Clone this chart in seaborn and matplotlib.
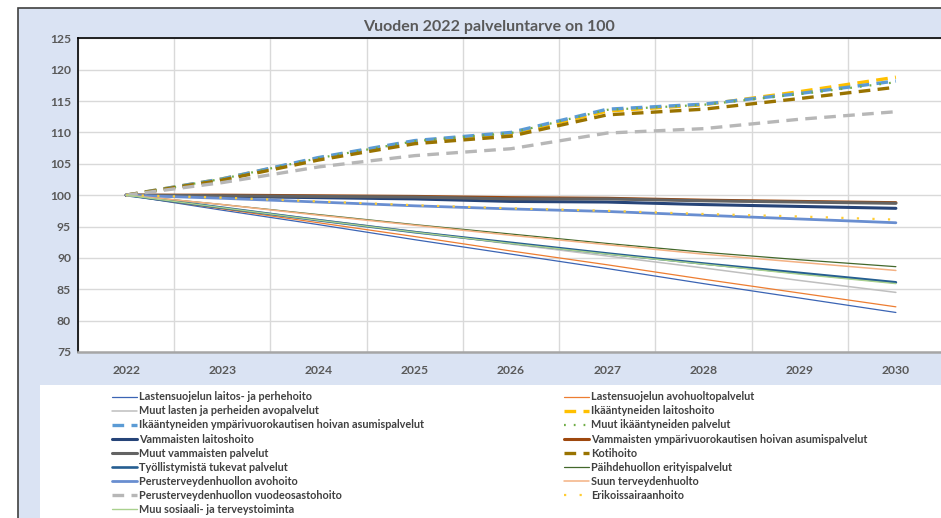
## arrays and tables
import numpy as np
import pandas as pd
## visualisation
import matplotlib
matplotlib.use('Agg')
from matplotlib import pyplot as plt
from matplotlib.lines import Line2D
from matplotlib.patches import Rectangle
import seaborn as sns

## data (index, 2022 = 100)
years = [2022, 2023, 2024, 2025, 2026, 2027, 2028, 2029, 2030]

lastensuojelu_laitos = [100, 97.6, 95.3, 92.9, 90.6, 88.3, 85.9, 83.6, 81.3]
lastensuojelu_avohuolto = [100, 97.8, 95.6, 93.4, 91.1, 88.9, 86.6, 84.4, 82.2]
muut_lasten = [100, 98.0, 96.1, 94.2, 92.2, 90.3, 88.4, 86.4, 84.5]
ikaant_laitos = [100, 102.6, 105.9, 108.6, 109.8, 113.4, 114.4, 116.5, 118.8]
ikaant_asumis = [100, 102.6, 106.0, 108.7, 110.0, 113.7, 114.5, 116.2, 118.2]
muut_ikaant = [100, 102.6, 105.9, 108.6, 109.9, 113.6, 114.4, 116.1, 118.0]
vamm_laitos = [100, 99.8, 99.6, 99.4, 99.0, 98.9, 98.5, 98.2, 97.9]
vamm_asumis = [100, 100.0, 99.9, 99.8, 99.6, 99.5, 99.2, 99.0, 98.8]
muut_vamm = [100, 99.9, 99.8, 99.7, 99.4, 99.4, 99.1, 98.9, 98.7]
kotihoito = [100, 102.4, 105.6, 108.2, 109.4, 112.8, 113.7, 115.4, 117.2]
tyollistyminen = [100, 98.0, 96.0, 94.1, 92.4, 90.7, 89.1, 87.6, 86.1]
paihdehuolto = [100, 98.5, 96.9, 95.3, 93.8, 92.3, 90.9, 89.7, 88.6]
pth_avohoito = [100, 99.5, 98.9, 98.3, 97.8, 97.4, 96.8, 96.2, 95.6]
suun_th = [100, 98.5, 96.8, 95.2, 93.6, 92.1, 90.6, 89.3, 88.0]
pth_vuodeosasto = [100, 102.0, 104.5, 106.3, 107.4, 109.9, 110.6, 112.1, 113.3]
erikoissairaanhoito = [100, 99.6, 99.0, 98.4, 97.9, 97.5, 97.0, 96.6, 96.1]
muu_sote = [100, 98.0, 96.0, 94.1, 92.3, 90.6, 89.0, 87.4, 85.9]

series = [
    ('Lastensuojelun laitos- ja perhehoito', lastensuojelu_laitos),
    ('Lastensuojelun avohuoltopalvelut', lastensuojelu_avohuolto),
    ('Muut lasten ja perheiden avopalvelut', muut_lasten),
    ('Ikääntyneiden laitoshoito', ikaant_laitos),
    ('Ikääntyneiden ympärivuorokautisen hoivan asumispalvelut', ikaant_asumis),
    ('Muut ikääntyneiden palvelut', muut_ikaant),
    ('Vammaisten laitoshoito', vamm_laitos),
    ('Vammaisten ympärivuorokautisen hoivan asumispalvelut', vamm_asumis),
    ('Muut vammaisten palvelut', muut_vamm),
    ('Kotihoito', kotihoito),
    ('Työllistymistä tukevat palvelut', tyollistyminen),
    ('Päihdehuollon erityispalvelut', paihdehuolto),
    ('Perusterveydenhuollon avohoito', pth_avohoito),
    ('Suun terveydenhuolto', suun_th),
    ('Perusterveydenhuollon vuodeosastohoito', pth_vuodeosasto),
    ('Erikoissairaanhoito', erikoissairaanhoito),
    ('Muu sosiaali- ja terveystoiminta', muu_sote),
]

## line styles: colour, width, dash pattern
dash = (0, (3.5, 2.2))
styles = [
    ('#3B64B4', 0.9, '-'),
    ('#ED7D31', 0.9, '-'),
    ('#BFBFBF', 1.1, '-'),
    ('#FFC000', 2.4, dash),
    ('#5B9BD5', 2.4, dash),
    ('#70AD47', 1.6, (0, (0.8, 3.6))),
    ('#264478', 2.2, '-'),
    ('#9E480E', 2.2, '-'),
    ('#636363', 2.2, '-'),
    ('#997300', 2.4, dash),
    ('#255E91', 1.9, '-'),
    ('#43682B', 0.9, '-'),
    ('#698ED0', 2.0, '-'),
    ('#F4B183', 1.1, '-'),
    ('#B7B7B7', 2.4, dash),
    ('#FFCD33', 1.6, (0, (1, 6))),
    ('#A9D18E', 1.0, '-'),
]

sns.set_style('white')
plt.rcParams['font.family'] = ['Lato', 'DejaVu Sans']
plt.rcParams['font.weight'] = 'bold'

W, H = 941, 518
fx = lambda px: px / W
fy = lambda py: 1 - py / H

fig = plt.figure(figsize=(W / 100, H / 100), dpi=100, facecolor='white')
## chart area background and legend box
fig.add_artist(Rectangle((fx(18), -0.01), 1.0, fy(8) + 0.01, transform=fig.transFigure,
                         facecolor='#DAE3F3', edgecolor='#404040', lw=1.2, zorder=-10))
fig.add_artist(Rectangle((fx(40), -0.01), 1.0, fy(385) + 0.01, transform=fig.transFigure,
                         facecolor='white', edgecolor='none', zorder=-9))

ax = fig.add_axes([fx(78), fy(352), (944 - 78) / W, (352 - 38.3) / H])
ax.set_facecolor('white')

handles = []
for (name, vals), (col, lw, ls) in zip(series, styles):
    d = pd.DataFrame({'year': years, 'value': vals})
    sns.lineplot(data=d, x='year', y='value', ax=ax, color=col, linewidth=lw,
                 linestyle=ls, legend=False)
    handles.append(Line2D([], [], color=col, lw=lw, linestyle=ls))

ax.set_xlim(2021.5, 2030.5)
ax.set_ylim(75, 125)
ax.set_xticks(years)
ax.set_xticks(np.arange(2021.5, 2031, 1), minor=True)
ax.set_yticks(np.arange(75, 126, 5))
ax.grid(False)
ax.yaxis.grid(True, color='#D9D9D9', lw=1)
ax.xaxis.grid(True, which='minor', color='#D9D9D9', lw=1)
ax.set_axisbelow(True)
ax.set_xlabel('')
ax.set_ylabel('')
ax.tick_params(axis='both', which='both', length=0, labelsize=8.7, labelcolor='#595959')
ax.tick_params(axis='x', pad=9)
ax.tick_params(axis='y', pad=5)
for s in ['left', 'top', 'right']:
    ax.spines[s].set_color('black')
    ax.spines[s].set_linewidth(1.2)
ax.spines['bottom'].set_color('#A6A6A6')
ax.spines['bottom'].set_linewidth(1.8)

fig.text(fx(489), fy(27), 'Vuoden 2022 palveluntarve on 100', ha='center', va='center',
         fontsize=11.5, fontweight='bold', color='#595959')

## legend in two columns, filled row by row as in the original
labels = [n for n, _ in series]
leg_kw = dict(loc='upper left', frameon=False, borderpad=0, handlelength=2.3,
              handletextpad=0.12, labelspacing=0.28, labelcolor='#404040',
              prop={'family': 'Lato', 'weight': 'bold', 'size': 7.8})
leg1 = fig.legend(handles[0::2], labels[0::2], bbox_to_anchor=(fx(107), fy(386)), **leg_kw)
leg2 = fig.legend(handles[1::2], labels[1::2], bbox_to_anchor=(fx(559), fy(386)), **leg_kw)

fig.savefig('out.png', dpi=100)
